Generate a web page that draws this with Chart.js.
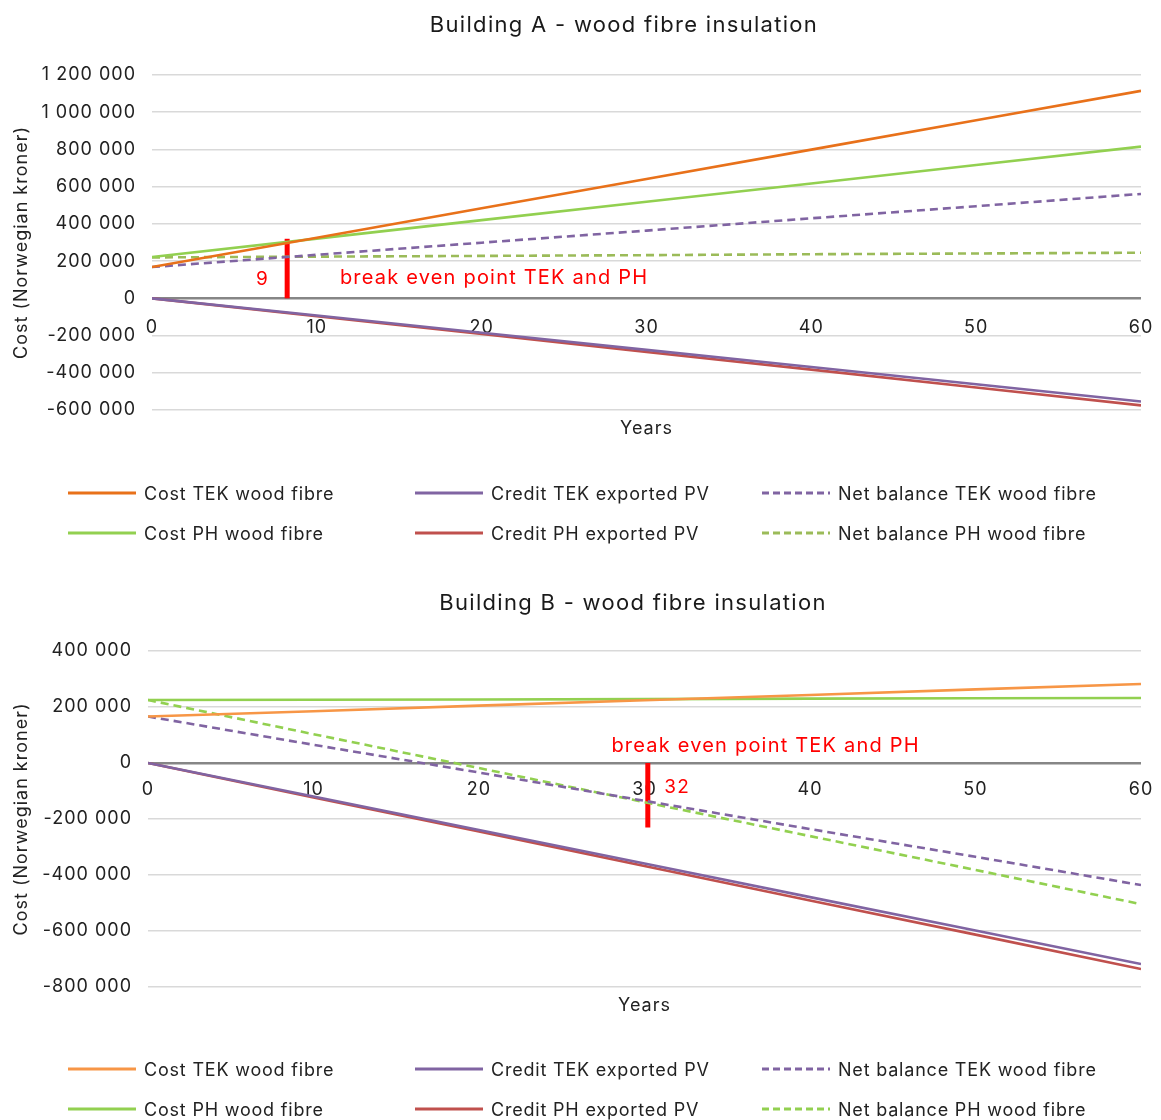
<!DOCTYPE html>
<html>
<head>
<meta charset="utf-8">
<title>Building A and B - wood fibre insulation</title>
<script src="https://cdn.jsdelivr.net/npm/chart.js@4.4.1/dist/chart.umd.min.js"></script>
<style>
  body { margin: 0; background: #fff; width: 1161px; height: 1120px; overflow: hidden; font-family: Inter, sans-serif; }
  .panel { position: relative; width: 1161px; height: 578px; }
  .panel canvas { position: absolute; left: 0; top: 0; }
  .title { position: absolute; top: 10px; transform: translateX(-50%); font-size: 22px; line-height: 28px; color: #1a1a1a; letter-spacing: 1.3px; white-space: nowrap; }
  .legend { position: absolute; left: 0; top: 0; width: 1161px; height: 578px; pointer-events: none; }
  .legend .item { position: absolute; height: 24px; display: flex; align-items: center; font-size: 18px; color: #222; letter-spacing: 0.8px; white-space: nowrap; }
  .legend svg { margin-right: 8px; }
</style>
</head>
<body>
<div class="panel">
  <canvas id="chartA" width="1161" height="578"></canvas>
  <div class="title" style="left:624px">Building A - wood fibre insulation</div>
  <div class="legend" id="legendA"></div>
</div>
<div class="panel">
  <canvas id="chartB" width="1161" height="578"></canvas>
  <div class="title" style="left:633px">Building B - wood fibre insulation</div>
  <div class="legend" id="legendB"></div>
</div>
<script>
// years read on the x axis
const years = [0, 10, 20, 30, 40, 50, 60];

const names = [
  'Cost TEK wood fibre', 'Cost PH wood fibre',
  'Credit TEK exported PV', 'Credit PH exported PV',
  'Net balance TEK wood fibre', 'Net balance PH wood fibre'
];

// Building A (NOK)
const costTekA   = [168000, 326000, 484000, 641000, 799000, 957000, 1115000];
const costPhA    = [222000, 321000, 420000, 519000, 617000, 716000, 815000];
const creditTekA = [0, -92000, -185000, -277000, -369000, -462000, -554000];
const creditPhA  = [0, -96000, -192000, -288000, -383000, -479000, -575000];
const netTekA    = [168000, 234000, 299000, 364000, 430000, 495000, 561000];
const netPhA     = [220000, 224000, 228000, 232000, 237000, 241000, 245000];

// Building B (NOK)
const costTekB   = [166000, 185000, 205000, 224000, 243000, 263000, 282000];
const costPhB    = [225000, 226000, 227000, 228000, 230000, 231000, 232000];
const creditTekB = [0, -120000, -239000, -359000, -479000, -598000, -718000];
const creditPhB  = [0, -123000, -245000, -368000, -491000, -613000, -736000];
const netTekB    = [166000, 65000, -34000, -135000, -236000, -335000, -436000];
const netPhB     = [225000, 103000, -18000, -140000, -261000, -382000, -504000];

// break even marker: [year, top value]
const breakEvenA = [8.2, 320000];
const breakEvenB = [30.2, -230000];

function fmt(v) {
  const s = String(Math.abs(v)).replace(/\B(?=(\d{3})+(?!\d))/g, ' ');
  return (v < 0 ? '-' : '') + s;
}

function pts(vals) {
  return years.map((yr, i) => ({ x: yr, y: vals[i] }));
}

// wider spacing for all canvas text, and the red texts at data positions
const notesPlugin = {
  id: 'notes',
  beforeUpdate(chart) {
    chart.ctx.letterSpacing = '1px';
  },
  beforeDraw(chart) {
    chart.ctx.letterSpacing = '1px';
  },
  afterDatasetsDraw(chart, args, opts) {
    const { ctx, scales: { x, y } } = chart;
    ctx.save();
    ctx.letterSpacing = '1.2px';
    ctx.fillStyle = '#ff0000';
    ctx.textBaseline = 'middle';
    (opts.items || []).forEach(n => {
      ctx.font = n.size + 'px Inter';
      ctx.textAlign = n.align;
      ctx.fillText(n.text, x.getPixelForValue(n.x), y.getPixelForValue(n.y));
    });
    ctx.restore();
  }
};

const font = { family: 'Inter', size: 18 };

function makeChart(id, legendId, o) {
  const lineDs = (label, vals, color, dashed) => ({
    label: label,
    data: pts(vals),
    borderColor: color,
    backgroundColor: color,
    borderWidth: 2.6,
    borderDash: dashed ? [8, 5] : [],
    pointRadius: 0,
    tension: 0
  });

  const datasets = [
    lineDs(names[0], o.series[0], o.colors[0], false),
    lineDs(names[1], o.series[1], o.colors[1], false),
    lineDs(names[2], o.series[2], o.colors[2], false),
    lineDs(names[3], o.series[3], o.colors[3], false),
    lineDs(names[4], o.series[4], o.colors[4], true),
    lineDs(names[5], o.series[5], o.colors[5], true),
    {
      label: 'break even',
      marker: true,
      data: [{ x: o.marker[0], y: 0 }, { x: o.marker[0], y: o.marker[1] }],
      borderColor: '#ff0000',
      borderWidth: 5,
      pointRadius: 0
    }
  ];

  const chart = new Chart(document.getElementById(id), {
    type: 'line',
    data: { datasets: datasets },
    plugins: [notesPlugin],
    options: {
      responsive: false,
      animation: false,
      events: [],
      layout: { padding: { left: 0, right: 20, top: o.padTop, bottom: o.padBottom } },
      plugins: {
        legend: { display: false },
        tooltip: { enabled: false },
        title: { display: false },
        notes: { items: o.notes }
      },
      scales: {
        x: {
          type: 'linear',
          position: { y: 0 },
          min: 0,
          max: 60,
          grid: { display: false, drawTicks: false },
          border: { display: false },
          ticks: { stepSize: 10, padding: o.xPad, color: '#222', font: font },
          afterFit: s => { s.paddingLeft = 0; s.paddingRight = 0; }
        },
        xTitle: {
          type: 'linear',
          axis: 'x',
          position: 'bottom',
          min: 0,
          max: 60,
          grid: { display: false, drawTicks: false },
          border: { display: false },
          ticks: { display: false },
          title: { display: true, text: 'Years', color: '#222', font: font, padding: { top: 8, bottom: 0 } }
        },
        y: {
          min: o.yMin,
          max: o.yMax,
          ticks: { stepSize: 200000, padding: 16, color: '#222', font: font, callback: v => fmt(v) },
          grid: {
            color: c => c.tick.value === 0 ? '#868686' : '#d9d9d9',
            lineWidth: c => c.tick.value === 0 ? 2.5 : 1.5,
            drawTicks: false
          },
          border: { display: false },
          title: { display: true, text: 'Cost (Norwegian kroner)', color: '#222', font: font, padding: { top: 11, bottom: 0 } },
          afterFit: s => { s.width = o.left; }
        }
      }
    }
  });

  // html legend, three columns of two rows
  const cols = [68, 415, 762];
  const box = document.getElementById(legendId);
  chart.data.datasets.filter(d => !d.marker).forEach((d, i) => {
    const item = document.createElement('div');
    item.className = 'item';
    item.style.left = cols[Math.floor(i / 2)] + 'px';
    item.style.top = (o.rows[i % 2] - 12) + 'px';
    const dash = d.borderDash.length ? ' stroke-dasharray="7 4"' : '';
    item.innerHTML = '<svg width="68" height="6"><line x1="0" y1="3" x2="68" y2="3" stroke="' +
      d.borderColor + '" stroke-width="3"' + dash + '/></svg><span>' + d.label + '</span>';
    box.appendChild(item);
  });
  return chart;
}

makeChart('chartA', 'legendA', {
  series: [costTekA, costPhA, creditTekA, creditPhA, netTekA, netPhA],
  colors: ['#e8711a', '#92d050', '#8064a2', '#c0504d', '#8064a2', '#9bbb59'],
  marker: breakEvenA,
  notes: [
    { text: '9', x: 6.7, y: 102000, size: 19, align: 'center' },
    { text: 'break even point TEK and PH', x: 11.4, y: 107000, size: 20, align: 'left' }
  ],
  yMin: -600000, yMax: 1200000,
  left: 152, padTop: 75, padBottom: 138.4, xPad: 18, rows: [493, 533]
});

makeChart('chartB', 'legendB', {
  series: [costTekB, costPhB, creditTekB, creditPhB, netTekB, netPhB],
  colors: ['#f79646', '#92d050', '#8064a2', '#c0504d', '#8064a2', '#92d050'],
  marker: breakEvenB,
  notes: [
    { text: 'break even point TEK and PH', x: 28.0, y: 61000, size: 20, align: 'left' },
    { text: '32', x: 31.2, y: -86000, size: 19, align: 'left' }
  ],
  yMin: -800000, yMax: 400000,
  left: 148, padTop: 73, padBottom: 139.4, xPad: 16, rows: [491, 531]
});
</script>
</body>
</html>
